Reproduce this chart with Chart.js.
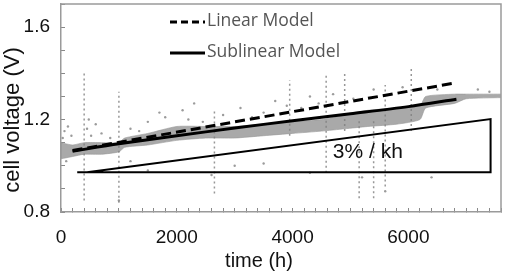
<!DOCTYPE html>
<html>
<head>
<meta charset="utf-8">
<script src="https://cdn.jsdelivr.net/npm/chart.js@4.4.1/dist/chart.umd.min.js"></script>
<style>
  html, body { margin: 0; padding: 0; background: #fff; }
  #wrap { width: 505px; height: 276px; position: relative; }
</style>
</head>
<body>
<div id="wrap"><canvas id="voltChart" width="505" height="276"></canvas></div>
<script>
// measured cell voltage band (upper / lower edge of the grey cloud)
var bandT     = [0, 200, 400, 700, 1000, 1100, 1500, 2000, 2500, 3000, 3500, 4000, 4500, 4900, 5300, 5800, 6200, 6300, 6800, 7000, 7600];
var bandUpper = [1.10, 1.09, 1.10, 1.10, 1.10, 1.12, 1.14, 1.17, 1.17, 1.17, 1.18, 1.19, 1.20, 1.22, 1.24, 1.25, 1.26, 1.30, 1.31, 1.31, 1.31];
var bandLower = [1.03, 1.04, 1.05, 1.05, 1.06, 1.08, 1.09, 1.11, 1.12, 1.12, 1.13, 1.14, 1.15, 1.16, 1.17, 1.18, 1.20, 1.25, 1.27, 1.29, 1.295];

// scattered single readings
var dotT = [30, 60, 90, 120, 180, 450, 480, 520, 600, 700, 850, 1200, 1350, 1500, 1700, 1800, 2100, 2200, 2300, 2450, 2800, 3100, 3300, 3500, 3700, 3900, 4150, 4300, 4450, 4700, 5050, 5400, 5700, 5900, 6500, 7200, 7400,
            1500, 2600, 3500, 4300, 5200, 5600, 6400, 1000, 1200, 3000];
var dotV = [1.12, 1.15, 1.02, 1.17, 1.13, 1.16, 1.20, 1.13, 1.18, 1.14, 1.12, 1.16, 1.15, 1.19, 1.23, 1.21, 1.24, 1.20, 1.27, 1.19, 1.22, 1.25, 1.21, 1.23, 1.28, 1.26, 1.25, 1.30, 1.27, 1.31, 1.29, 1.33, 1.31, 1.34, 1.33, 1.33, 1.32,
            0.98, 0.96, 1.01, 0.97, 0.95, 0.89, 0.95, 0.85, 1.02, 1.00];

// transient spikes (time, lowest, highest voltage)
var spikeT    = [400, 1000, 2650, 3950, 4580, 4900, 5150, 5400, 5600, 6050];
var spikeLow  = [0.85, 0.84, 0.88, 1.13, 0.97, 1.15, 0.86, 0.86, 0.91, 1.15];
var spikeHigh = [1.40, 1.32, 1.24, 1.37, 1.39, 1.41, 1.20, 1.20, 1.35, 1.42];

// model fits
var linearT = [200, 6800];
var linearV = [1.066, 1.358];
var sublinearT = [200, 1000, 2000, 3000, 4000, 5000, 6000, 6830];
var sublinearV = [1.063, 1.095, 1.130, 1.163, 1.195, 1.225, 1.256, 1.288];

// slope triangle
var triangleT = [450, 7420, 7420, 280];
var triangleV = [0.972, 1.202, 0.972, 0.972];

var xLabels = [0, 2000, 4000, 6000];
var yLabels = [0.8, 1.2, 1.6];

function pts(xs, ys) {
    return xs.map(function (x, i) { return { x: x, y: ys[i] }; });
}
function spikePts() {
    var out = [];
    for (var i = 0; i < spikeT.length; i++) {
        out.push({ x: spikeT[i], y: spikeLow[i] });
        out.push({ x: spikeT[i], y: spikeHigh[i] });
        out.push({ x: spikeT[i], y: null });
    }
    return out;
}

var FONT = "'Liberation Sans', Arial, sans-serif";

var extras = {
    id: 'extras',
    afterDraw: function (chart) {
        var ctx = chart.ctx, a = chart.chartArea;
        var xs = chart.scales.x, ys = chart.scales.y;
        ctx.save();
        // top and right frame
        ctx.strokeStyle = '#9a9a9a';
        ctx.lineWidth = 1.5;
        ctx.beginPath();
        ctx.moveTo(a.left, a.top);
        ctx.lineTo(a.right, a.top);
        ctx.lineTo(a.right, a.bottom);
        ctx.stroke();

        // legend
        ctx.strokeStyle = '#000';
        ctx.lineWidth = 3;
        ctx.setLineDash([7, 4]);
        ctx.beginPath(); ctx.moveTo(170, 22); ctx.lineTo(205, 22); ctx.stroke();
        ctx.setLineDash([]);
        ctx.beginPath(); ctx.moveTo(170, 53); ctx.lineTo(205, 53); ctx.stroke();
        ctx.fillStyle = '#555';
        ctx.font = "17.5px 'Open Sans', sans-serif";
        ctx.textAlign = 'left';
        ctx.textBaseline = 'middle';
        ctx.fillText('Linear Model', 207, 21);
        ctx.fillText('Sublinear Model', 207, 52);

        // slope label
        ctx.fillStyle = '#111';
        ctx.font = '21px ' + FONT;
        ctx.textAlign = 'center';
        ctx.fillText('3% / kh', xs.getPixelForValue(5300), ys.getPixelForValue(1.058));

        // axis titles
        ctx.font = '20px ' + FONT;
        ctx.textBaseline = 'alphabetic';
        ctx.fillText('time (h)', 259, 267);
        ctx.translate(19, 120);
        ctx.rotate(-Math.PI / 2);
        ctx.font = '22px ' + FONT;
        ctx.fillText('cell voltage (V)', 0, 0);
        ctx.restore();
    }
};

new Chart(document.getElementById('voltChart').getContext('2d'), {
    type: 'line',
    data: {
        datasets: [
            {
                label: 'Linear Model',
                data: pts(linearT, linearV),
                borderColor: '#000',
                borderWidth: 3,
                borderDash: [10, 5],
                pointRadius: 0,
                order: 0
            },
            {
                label: 'Sublinear Model',
                data: pts(sublinearT, sublinearV),
                borderColor: '#000',
                borderWidth: 3,
                pointRadius: 0,
                tension: 0.3,
                order: 0
            },
            {
                label: 'slope',
                data: pts(triangleT, triangleV),
                borderColor: '#000',
                borderWidth: 2,
                pointRadius: 0,
                order: 1
            },
            {
                label: 'spikes',
                data: spikePts(),
                borderColor: 'rgba(125,125,125,0.8)',
                borderWidth: 1.5,
                borderDash: [2, 3],
                pointRadius: 0,
                spanGaps: false,
                order: 3
            },
            {
                label: 'dots',
                data: pts(dotT, dotV),
                showLine: false,
                pointRadius: 1.2,
                pointBackgroundColor: 'rgba(130,130,130,0.8)',
                pointBorderWidth: 0,
                order: 4
            },
            {
                label: 'upper',
                data: pts(bandT, bandUpper),
                borderColor: 'rgba(150,150,150,0.6)',
                borderWidth: 1,
                pointRadius: 0,
                tension: 0.2,
                fill: false,
                order: 5
            },
            {
                label: 'lower',
                data: pts(bandT, bandLower),
                borderColor: 'rgba(150,150,150,0.6)',
                borderWidth: 1,
                pointRadius: 0,
                tension: 0.2,
                fill: '-1',
                backgroundColor: 'rgba(140,140,140,0.75)',
                order: 5
            }
        ]
    },
    options: {
        responsive: false,
        animation: false,
        layout: { padding: { top: 3, right: 4 } },
        plugins: {
            legend: { display: false },
            tooltip: { enabled: false }
        },
        scales: {
            x: {
                type: 'linear',
                min: 0,
                max: 7600,
                afterFit: function (s) { s.height = 64; s.paddingLeft = 0; s.paddingRight = 0; },
                border: { color: '#9a9a9a', width: 1.5 },
                grid: { drawOnChartArea: false, tickLength: -4, color: '#888' },
                ticks: {
                    stepSize: 200,
                    autoSkip: false,
                    maxRotation: 0,
                    padding: 18,
                    color: '#111',
                    font: { family: FONT, size: 19 },
                    callback: function (v) { return xLabels.indexOf(v) >= 0 ? String(v) : ''; }
                }
            },
            y: {
                min: 0.8,
                max: 1.7,
                afterFit: function (s) { s.width = 61; s.paddingTop = 0; s.paddingBottom = 0; },
                border: { color: '#9a9a9a', width: 1.5 },
                grid: { drawOnChartArea: false, tickLength: -4, color: '#888' },
                ticks: {
                    stepSize: 0.1,
                    autoSkip: false,
                    padding: 15,
                    color: '#111',
                    font: { family: FONT, size: 19 },
                    callback: function (v) {
                        var r = Math.round(v * 10) / 10;
                        return yLabels.indexOf(r) >= 0 ? r.toFixed(1) : '';
                    }
                }
            }
        }
    },
    plugins: [extras]
});
</script>
</body>
</html>
